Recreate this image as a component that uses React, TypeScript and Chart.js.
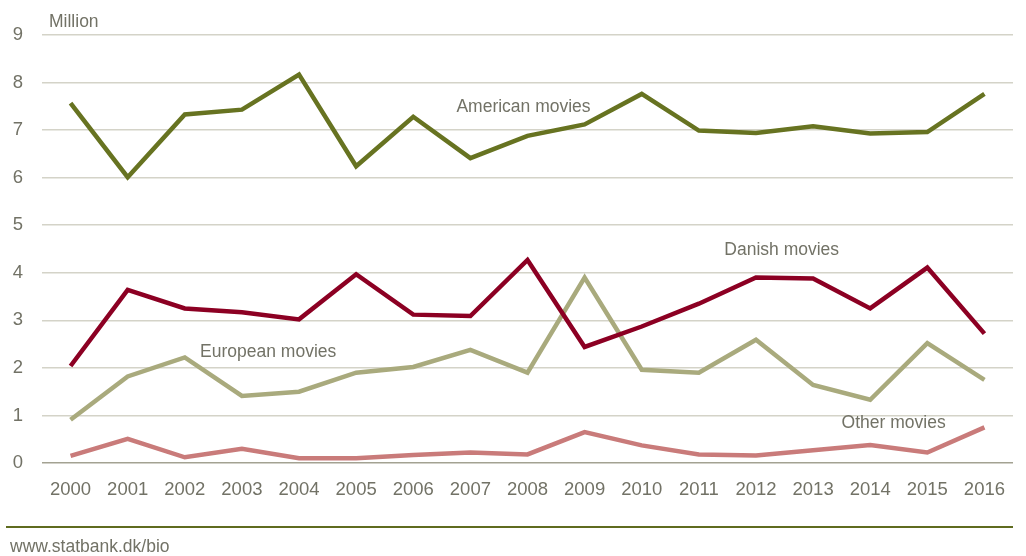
import React, { useEffect, useRef } from "react";
import { Chart, registerables } from "chart.js";

Chart.register(...registerables);

const years = ["2000","2001","2002","2003","2004","2005","2006","2007","2008","2009","2010","2011","2012","2013","2014","2015","2016"];
const americanMovies = [7.57, 6.01, 7.33, 7.43, 8.17, 6.24, 7.28, 6.41, 6.88, 7.12, 7.76, 6.99, 6.94, 7.08, 6.93, 6.96, 7.76];
const danishMovies = [2.04, 3.64, 3.25, 3.17, 3.02, 3.97, 3.12, 3.09, 4.27, 2.44, 2.87, 3.35, 3.90, 3.88, 3.25, 4.11, 2.72];
const europeanMovies = [0.91, 1.82, 2.22, 1.41, 1.50, 1.90, 2.02, 2.38, 1.90, 3.90, 1.96, 1.90, 2.59, 1.64, 1.33, 2.52, 1.75];
const otherMovies = [0.15, 0.51, 0.12, 0.30, 0.10, 0.10, 0.17, 0.22, 0.18, 0.65, 0.37, 0.18, 0.16, 0.27, 0.38, 0.22, 0.75];
const seriesNames = ["American movies", "Danish movies", "European movies", "Other movies"];
const yTicks = [0, 1, 2, 3, 4, 5, 6, 7, 8, 9];
const unitLabel = "Million";
const sourceLabel = "www.statbank.dk/bio";

const FONT = "'Liberation Sans', Arial, sans-serif";
const TEXT = "#727266";

// label anchors in data space: [category index, value]
const labelAnchors: [number, number][] = [[7.93, 7.49], [12.45, 4.48], [3.46, 2.34], [14.41, 0.84]];

export default function App() {
  const ref = useRef<HTMLCanvasElement | null>(null);
  useEffect(() => {
    document.body.style.margin = "0";
    const canvas = ref.current!;
    const labelsPlugin = {
      id: "labels",
      afterDraw(chart: any) {
        const ctx = chart.ctx;
        const xs = chart.scales.x;
        const ys = chart.scales.y;
        ctx.save();
        ctx.fillStyle = TEXT;
        ctx.font = `17.5px ${FONT}`;
        ctx.textBaseline = "middle";
        ctx.textAlign = "center";
        seriesNames.forEach((n, i) => {
          const [cx, cy] = labelAnchors[i];
          ctx.fillText(n, xs.getPixelForValue(cx), ys.getPixelForValue(cy));
        });
        ctx.textAlign = "left";
        ctx.fillText(unitLabel, 49, 22);
        ctx.fillText(sourceLabel, 10, 547);
        ctx.strokeStyle = "#5f6b1f";
        ctx.lineWidth = 2;
        ctx.beginPath();
        ctx.moveTo(6, 527);
        ctx.lineTo(chart.chartArea.right, 527);
        ctx.stroke();
        ctx.restore();
      },
    };
    const chart = new Chart(canvas, {
      type: "line",
      data: {
        labels: years,
        datasets: [
          { label: seriesNames[0], data: americanMovies, borderColor: "#677321" },
          { label: seriesNames[1], data: danishMovies, borderColor: "#8c0023" },
          { label: seriesNames[2], data: europeanMovies, borderColor: "#a9aa7d" },
          { label: seriesNames[3], data: otherMovies, borderColor: "#c97b7a" },
        ].map((d) => ({ ...d, borderWidth: 4.5, pointRadius: 0, tension: 0, fill: false, borderCapStyle: "butt" as const, borderJoinStyle: "miter" as const })),
      },
      options: {
        responsive: false,
        animation: false,
        layout: { padding: { left: 0, right: 13, top: 35, bottom: 53 } },
        plugins: { legend: { display: false }, tooltip: { enabled: false } },
        scales: {
          x: {
            offset: true,
            grid: { display: false, drawTicks: false },
            border: { display: false },
            ticks: { color: TEXT, font: { family: FONT, size: 18.5 }, padding: 16, maxRotation: 0, autoSkip: false },
            afterFit(s: any) { s.height = 40; },
          },
          y: {
            min: 0,
            max: 9,
            afterBuildTicks(s: any) { s.ticks = yTicks.map((v) => ({ value: v })); },
            grid: {
              drawTicks: false,
              color: (c: any) => (c.tick && c.tick.value === 0 ? "#a3a292" : "#d4d3c8"),
              lineWidth: 1.5,
            },
            border: { display: false },
            ticks: { color: TEXT, font: { family: FONT, size: 18.5 }, padding: 19 },
            afterFit(s: any) { s.width = 42; },
          },
        },
      },
      plugins: [labelsPlugin],
    });
    return () => chart.destroy();
  }, []);
  return (
    <div style={{ position: "absolute", left: 0, top: 0, width: 1026, height: 556, background: "#fff" }}>
      <canvas ref={ref} width={1026} height={556} style={{ width: 1026, height: 556, display: "block" }} />
    </div>
  );
}
